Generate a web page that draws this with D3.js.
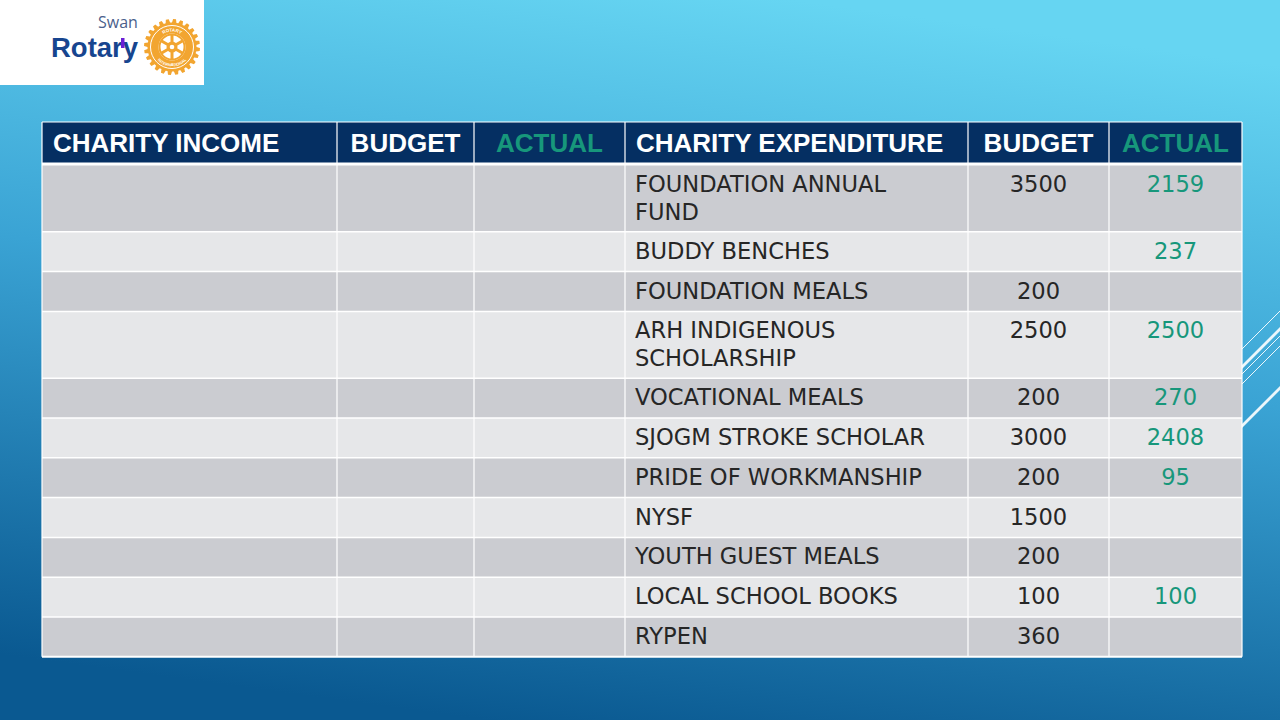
<!DOCTYPE html>
<html>
<head>
<meta charset="utf-8">
<script src="https://cdn.jsdelivr.net/npm/d3@7"></script>
<style>
  html, body { margin: 0; padding: 0; overflow: hidden; background: #3aa6d6; }
  svg { display: block; }
</style>
</head>
<body>
<svg id="chart" width="1280" height="720"></svg>
<script>
// ---------- DATA ----------
const headers = ["CHARITY INCOME", "BUDGET", "ACTUAL", "CHARITY EXPENDITURE", "BUDGET", "ACTUAL"];
const incomeItems = ["", "", "", "", "", "", "", "", "", "", ""];
const incomeBudget = [null, null, null, null, null, null, null, null, null, null, null];
const incomeActual = [null, null, null, null, null, null, null, null, null, null, null];
const expenditureItems = [
  "FOUNDATION ANNUAL FUND", "BUDDY BENCHES", "FOUNDATION MEALS", "ARH INDIGENOUS SCHOLARSHIP",
  "VOCATIONAL MEALS", "SJOGM STROKE SCHOLAR", "PRIDE OF WORKMANSHIP", "NYSF",
  "YOUTH GUEST MEALS", "LOCAL SCHOOL BOOKS", "RYPEN"
];
const expenditureBudget = [3500, null, 200, 2500, 200, 3000, 200, 1500, 200, 100, 360];
const expenditureActual = [2159, 237, null, 2500, 270, 2408, 95, null, null, 100, null];
const columnWidths = [295, 137, 151, 343, 141, 133];

// ---------- SETUP ----------
const svg = d3.select("#chart");
const W = 1280, H = 720;
const C = {
  header: "#052f62", green: "#17977b", rowDark: "#cbccd1", rowLight: "#e6e7e9",
  text: "#262626", grid: "#ffffff"
};

const defs = svg.append("defs");
const bg = defs.append("linearGradient").attr("id", "bg")
  .attr("x1", "0.62").attr("y1", "0").attr("x2", "0.38").attr("y2", "1");
bg.append("stop").attr("offset", "0").attr("stop-color", "#66d5f2");
bg.append("stop").attr("offset", "0.45").attr("stop-color", "#3aa3d4");
bg.append("stop").attr("offset", "1").attr("stop-color", "#0a5991");
svg.append("rect").attr("width", W).attr("height", H).attr("fill", "url(#bg)");

// decorative diagonal lines (behind the table)
const deco = [ {c: 1591, w: 1}, {c: 1609, w: 3}, {c: 1616, w: 1}, {c: 1626, w: 1}, {c: 1668, w: 3} ];
svg.append("g").selectAll("line").data(deco).join("line")
  .attr("x1", 1200).attr("y1", d => d.c - 1200)
  .attr("x2", 1290).attr("y2", d => d.c - 1290)
  .attr("stroke", "#ffffff").attr("stroke-opacity", 0.9)
  .attr("stroke-width", d => d.w);

// ---------- LOGO ----------
const logo = svg.append("g");
logo.append("rect").attr("x", 0).attr("y", 0).attr("width", 204).attr("height", 85).attr("fill", "#ffffff");
logo.append("text").attr("x", 98).attr("y", 28).text("Swan")
  .attr("font-family", "Open Sans, sans-serif").attr("font-size", 16).attr("fill", "#4b5f8c");
logo.append("text").attr("x", 51).attr("y", 57).text("Rotary")
  .attr("font-family", "Liberation Sans, Arial, sans-serif").attr("font-weight", 700)
  .attr("font-size", 27.5).attr("fill", "#17458f");
logo.append("rect").attr("x", 121).attr("y", 38).attr("width", 3.5).attr("height", 10).attr("fill", "#6a1fd6");

const wheel = logo.append("g").attr("transform", "translate(172,47)");
const gold = "#f2a530";
const teeth = 24, rOut = 28, rIn = 24.5;
const gearPts = [];
for (let i = 0; i < teeth; i++) {
  const a0 = (i / teeth) * 2 * Math.PI;
  const step = 2 * Math.PI / teeth;
  gearPts.push([a0, rIn], [a0 + step * 0.15, rOut], [a0 + step * 0.55, rOut], [a0 + step * 0.7, rIn]);
}
wheel.append("path").attr("d", d3.lineRadial().curve(d3.curveLinearClosed)(gearPts)).attr("fill", gold);
wheel.append("circle").attr("r", 21.5).attr("fill", "none").attr("stroke", "#fff").attr("stroke-width", 1);
wheel.append("circle").attr("r", 13.5).attr("fill", "#fff");
wheel.append("circle").attr("r", 12.5).attr("fill", "none").attr("stroke", gold).attr("stroke-width", 2);
const spokes = d3.range(6).map(i => i * Math.PI / 3 + Math.PI / 6);
wheel.selectAll(".spoke").data(spokes).join("line")
  .attr("x1", 0).attr("y1", 0)
  .attr("x2", a => Math.cos(a) * 12.5).attr("y2", a => Math.sin(a) * 12.5)
  .attr("stroke", gold).attr("stroke-width", 3);
wheel.append("circle").attr("r", 5.5).attr("fill", gold);
wheel.append("circle").attr("r", 2.3).attr("fill", "#fff");
defs.append("path").attr("id", "ringTop").attr("d", "M -15.5,0 A 15.5,15.5 0 0 1 15.5,0");
defs.append("path").attr("id", "ringBot").attr("d", "M -19.5,0 A 19.5,19.5 0 0 0 19.5,0");
wheel.append("text").attr("font-size", 4.5).attr("fill", "#fff").attr("font-family", "Liberation Sans, sans-serif")
  .attr("font-weight", 700).append("textPath").attr("href", "#ringTop").attr("startOffset", "50%")
  .attr("text-anchor", "middle").text("ROTARY");
wheel.append("text").attr("font-size", 4).attr("fill", "#fff").attr("font-family", "Liberation Sans, sans-serif")
  .attr("font-weight", 700).append("textPath").attr("href", "#ringBot").attr("startOffset", "50%")
  .attr("text-anchor", "middle").text("INTERNATIONAL");

// ---------- TABLE ----------
const tableX = 42, headerTop = 122, headerH = 41, bodyTop = 165;
const colEdges = [tableX];
columnWidths.forEach(w => colEdges.push(colEdges[colEdges.length - 1] + w));
const colX = d3.scaleOrdinal().domain(d3.range(6)).range(colEdges.slice(0, 6));
const colW = d3.scaleOrdinal().domain(d3.range(6)).range(columnWidths);
const tableRight = colEdges[6];

const bodyFont = "DejaVu Sans, sans-serif";
const bodySize = 22.6;
const lineH = 27, padV = 12.8, padL = 10;

// measure and wrap expenditure item names
const measurer = svg.append("text").attr("font-family", bodyFont).attr("font-size", bodySize).attr("visibility", "hidden");
function wrap(str, maxW) {
  if (!str) return [""];
  const words = str.split(" "), lines = [];
  let cur = "";
  words.forEach(w => {
    const test = cur ? cur + " " + w : w;
    measurer.text(test);
    if (measurer.node().getComputedTextLength() > maxW && cur) { lines.push(cur); cur = w; }
    else cur = test;
  });
  lines.push(cur);
  return lines;
}
const rows = expenditureItems.map((name, i) => ({
  income: incomeItems[i], incB: incomeBudget[i], incA: incomeActual[i],
  exp: wrap(name, 300), expB: expenditureBudget[i], expA: expenditureActual[i], i
}));
measurer.remove();

// cumulative row positions through a linear scale of line units
const lineUnits = [0];
rows.forEach(r => lineUnits.push(lineUnits[lineUnits.length - 1] + r.exp.length));
const yLines = d3.scaleLinear().domain([0, 1]).range([0, lineH]);
rows.forEach((r, i) => {
  r.y = bodyTop + yLines(lineUnits[i]) + padV * i;
  r.h = yLines(r.exp.length) + padV;
});
const tableBottom = rows[rows.length - 1].y + rows[rows.length - 1].h;

const table = svg.append("g");
// header
table.append("rect").attr("x", tableX).attr("y", headerTop).attr("width", tableRight - tableX)
  .attr("height", headerH).attr("fill", C.header);
table.selectAll(".hdr").data(headers).join("text")
  .attr("x", (d, i) => (i === 0 || i === 3) ? colX(i) + 11 : colX(i) + colW(i) / 2)
  .attr("y", headerTop + 30)
  .attr("text-anchor", (d, i) => (i === 0 || i === 3) ? "start" : "middle")
  .attr("font-family", "Liberation Sans, Arial, sans-serif").attr("font-weight", 700)
  .attr("font-size", 26)
  .attr("fill", (d, i) => (i === 2 || i === 5) ? C.green : "#ffffff")
  .text(d => d);

// body rows
const rowG = table.selectAll(".row").data(rows).join("g").attr("class", "row");
rowG.append("rect").attr("x", tableX).attr("y", d => d.y).attr("width", tableRight - tableX)
  .attr("height", d => d.h).attr("fill", d => d.i % 2 === 0 ? C.rowDark : C.rowLight);

const fmt = v => v == null ? "" : String(v);
rowG.append("text").attr("x", colX(0) + padL).attr("y", d => d.y + 27)
  .attr("font-family", bodyFont).attr("font-size", bodySize).attr("fill", C.text).text(d => d.income);
rowG.append("text").attr("x", colX(1) + colW(1) / 2).attr("y", d => d.y + 27).attr("text-anchor", "middle")
  .attr("font-family", bodyFont).attr("font-size", bodySize).attr("fill", C.text).text(d => fmt(d.incB));
rowG.append("text").attr("x", colX(2) + colW(2) / 2).attr("y", d => d.y + 27).attr("text-anchor", "middle")
  .attr("font-family", bodyFont).attr("font-size", bodySize).attr("fill", C.green).text(d => fmt(d.incA));
rowG.append("text").attr("x", colX(3) + padL).attr("y", d => d.y + 27)
  .attr("font-family", bodyFont).attr("font-size", bodySize).attr("fill", C.text)
  .selectAll("tspan").data(d => d.exp).join("tspan")
  .attr("x", colX(3) + padL).attr("dy", (d, j) => j === 0 ? 0 : lineH + 1).text(d => d);
rowG.append("text").attr("x", colX(4) + colW(4) / 2).attr("y", d => d.y + 27).attr("text-anchor", "middle")
  .attr("font-family", bodyFont).attr("font-size", bodySize).attr("fill", C.text).text(d => fmt(d.expB));
rowG.append("text").attr("x", colX(5) + colW(5) / 2).attr("y", d => d.y + 27).attr("text-anchor", "middle")
  .attr("font-family", bodyFont).attr("font-size", bodySize).attr("fill", C.green).text(d => fmt(d.expA));

// grid lines
const grid = table.append("g").attr("stroke", C.grid);
grid.selectAll(".v").data(colEdges).join("line")
  .attr("x1", d => d).attr("x2", d => d).attr("y1", headerTop).attr("y2", tableBottom)
  .attr("stroke-width", 1.2);
grid.selectAll(".h").data(rows.slice(1)).join("line")
  .attr("x1", tableX).attr("x2", tableRight).attr("y1", d => d.y).attr("y2", d => d.y)
  .attr("stroke-width", 1.5);
grid.append("line").attr("x1", tableX).attr("x2", tableRight)
  .attr("y1", bodyTop - 1).attr("y2", bodyTop - 1).attr("stroke-width", 3);
grid.append("line").attr("x1", tableX).attr("x2", tableRight)
  .attr("y1", headerTop).attr("y2", headerTop).attr("stroke-width", 1.2);
grid.append("line").attr("x1", tableX).attr("x2", tableRight)
  .attr("y1", tableBottom).attr("y2", tableBottom).attr("stroke-width", 2);
</script>
</body>
</html>
